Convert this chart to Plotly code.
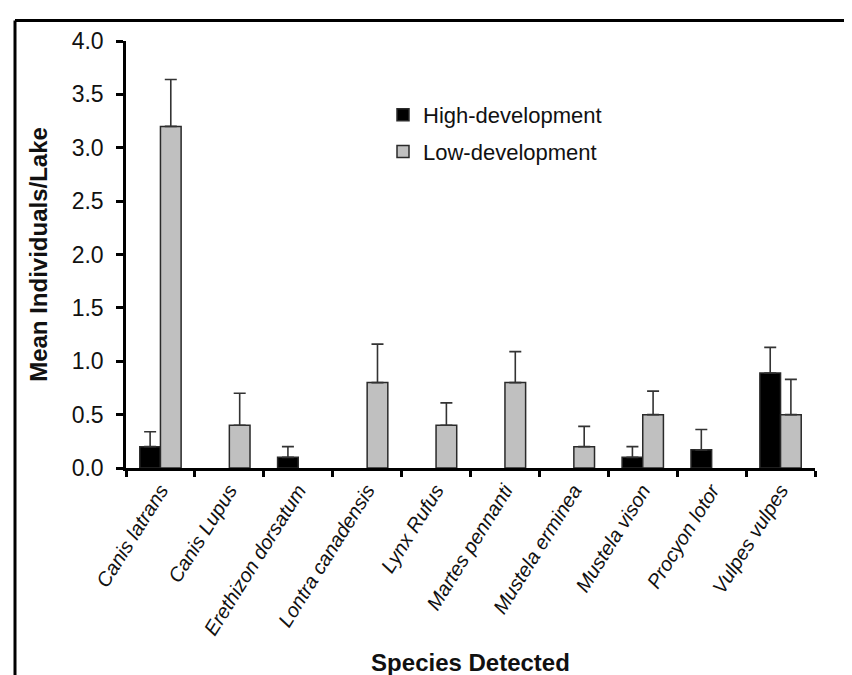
import plotly.graph_objects as go

species = ["Canis latrans", "Canis Lupus", "Erethizon dorsatum", "Lontra canadensis",
           "Lynx Rufus", "Martes pennanti", "Mustela erminea", "Mustela vison",
           "Procyon lotor", "Vulpes vulpes"]
high_mean = [0.2, None, 0.1, None, None, None, None, 0.1, 0.17, 0.89]
high_se = [0.14, None, 0.1, None, None, None, None, 0.1, 0.19, 0.24]
low_mean = [3.2, 0.4, None, 0.8, 0.4, 0.8, 0.2, 0.5, None, 0.5]
low_se = [0.44, 0.3, None, 0.36, 0.21, 0.29, 0.19, 0.22, None, 0.33]
y_ticks = [0.0, 0.5, 1.0, 1.5, 2.0, 2.5, 3.0, 3.5, 4.0]

FONT = "Liberation Sans, Arial, sans-serif"
OUT = "#2a2a2a"

fig = go.Figure()
fig.add_trace(go.Bar(
    name="High-development", x=species, y=high_mean, legendgroup="h",
    marker=dict(color="#000000", line=dict(color=OUT, width=1.5)),
    error_y=dict(type="data", array=high_se, symmetric=False,
                 arrayminus=[0 if v is not None else None for v in high_se],
                 color="#333333", thickness=1.6, width=6),
))
fig.add_trace(go.Bar(
    name="Low-development", x=species, y=low_mean, legendgroup="l",
    marker=dict(color="#c0c0c0", line=dict(color=OUT, width=1.5)),
    error_y=dict(type="data", array=low_se, symmetric=False,
                 arrayminus=[0 if v is not None else None for v in low_se],
                 color="#333333", thickness=1.6, width=6),
))

W, H = 852, 675
L, R, T, B = 118, 45, 33, 215
pw, ph = W - L - R, H - T - B

def px(x):
    return (x - L) / pw

def py(y):
    return (H - B - y) / ph

fig.update_layout(
    width=W, height=H,
    margin=dict(l=L, r=R, t=T, b=B),
    paper_bgcolor="white", plot_bgcolor="white",
    barmode="group", bargap=0.4, bargroupgap=0,
    font=dict(family=FONT, color="#111111"),
    showlegend=True,
    legend=dict(x=px(375), y=py(86), xanchor="left", yanchor="top",
                font=dict(size=22, family=FONT, color="#111111"),
                bgcolor="rgba(0,0,0,0)", tracegroupgap=5, traceorder="grouped"),
    xaxis=dict(
        showline=True, linecolor="#000000", linewidth=2.5,
        ticks="outside", tickson="boundaries", ticklen=6, tickwidth=2.5, tickcolor="#000000",
        tickangle=-58, tickfont=dict(size=20, family=FONT, style="italic", color="#111111"),
        showgrid=False, zeroline=False,
        title=dict(text="<b>Species Detected</b>", font=dict(size=24, family=FONT, color="#111111"),
                   standoff=16),
    ),
    yaxis=dict(
        range=[0, 4], tickvals=y_ticks, ticktext=[f"{v:.1f}" for v in y_ticks],
        showline=True, linecolor="#000000", linewidth=2.5,
        ticks="outside", ticklen=7, tickwidth=2.5, tickcolor="#000000",
        tickfont=dict(size=23, family=FONT, color="#111111"), ticklabelstandoff=8,
        showgrid=False, zeroline=False,
        title=dict(text="<b>Mean Individuals/Lake</b>", font=dict(size=24, family=FONT, color="#111111"),
                   standoff=18),
    ),
    shapes=[
        dict(type="line", xref="paper", yref="paper", x0=px(7), x1=px(852), y0=py(12.5), y1=py(12.5),
             line=dict(color="#000000", width=3)),
        dict(type="line", xref="paper", yref="paper", x0=px(7), x1=px(7), y0=py(12.5), y1=py(680),
             line=dict(color="#000000", width=3)),
    ],
)

fig.write_html("out.html")
